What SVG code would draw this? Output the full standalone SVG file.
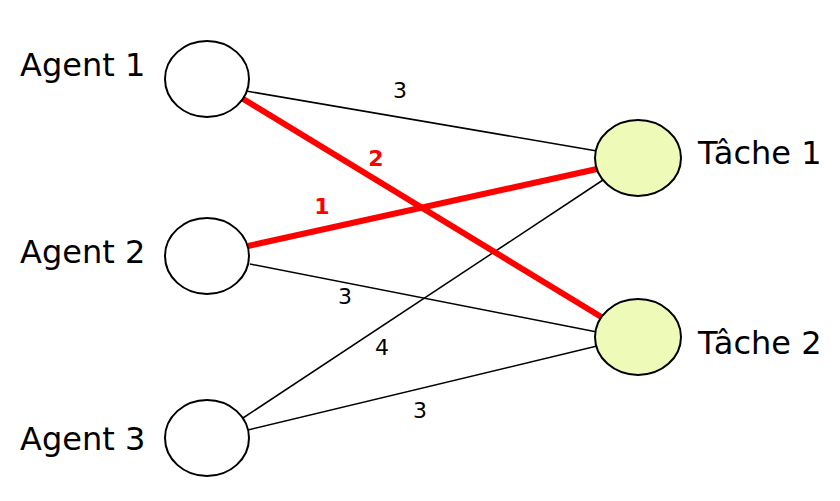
<svg xmlns="http://www.w3.org/2000/svg" width="840" height="501" viewBox="0 0 840 501">
<style>
.a{fill:#fff;stroke:#000;stroke-width:2}
.t{fill:#eefbb8;stroke:#000;stroke-width:2}
.n{font-family:"DejaVu Sans",sans-serif;font-size:32px;fill:#000}
.l{font-family:"DejaVu Sans",sans-serif;font-size:22px;fill:#000;text-anchor:middle}
.r{fill:#f00;font-weight:bold}
.e{stroke:#000;stroke-width:1.5}
.h{stroke:#f00;stroke-width:6}
</style>
<rect width="840" height="501" fill="#fff"/>
<g id="connectors">
<line class="e" x1="246" y1="91" x2="597" y2="151"/>
<line class="e" x1="250" y1="264" x2="597" y2="332"/>
<line class="e" x1="243" y1="418" x2="603" y2="180"/>
<line class="e" x1="248" y1="430" x2="597" y2="346"/>
<line class="h" x1="240" y1="97" x2="603" y2="318"/>
<line class="h" x1="248" y1="246" x2="597" y2="169"/>
<text class="l" x="400" y="98">3</text>
<text class="l r" x="376" y="166">2</text>
<text class="l r" x="322" y="214">1</text>
<text class="l" x="345" y="304">3</text>
<text class="l" x="382" y="355">4</text>
<text class="l" x="420" y="418">3</text>
</g>
<g id="agent1"><ellipse class="a" cx="207" cy="79" rx="42" ry="38"/><text class="n" x="20" y="76">Agent 1</text></g>
<g id="agent2"><ellipse class="a" cx="207" cy="256" rx="42" ry="38"/><text class="n" x="20" y="263">Agent 2</text></g>
<g id="agent3"><ellipse class="a" cx="207" cy="438" rx="42" ry="38"/><text class="n" x="20" y="450">Agent 3</text></g>
<g id="tache1"><ellipse class="t" cx="638" cy="158" rx="43" ry="38"/><text class="n" x="698" y="164">Tâche 1</text></g>
<g id="tache2"><ellipse class="t" cx="638" cy="337" rx="43" ry="38"/><text class="n" x="698" y="354">Tâche 2</text></g>
</svg>
